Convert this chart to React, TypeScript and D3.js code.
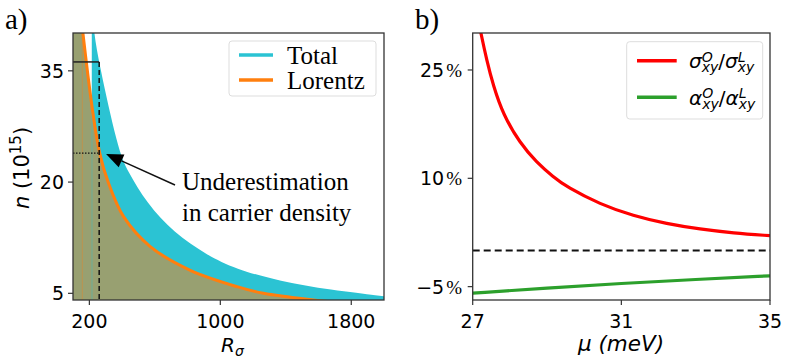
import { area, curveBasis, curveCatmullRom, line, scaleLinear } from "d3"

// panel a: carrier density n (10^15) vs R_sigma
const lorentzR = [157, 161, 263, 318, 410, 572, 817, 1102, 1264, 1568, 2000]
const lorentzN = [41.0, 40.0, 23.9, 19.8, 15.3, 11.3, 8.1, 5.9, 5.0, 4.1, 3.2]
const totalR = [216, 230, 257, 375, 430, 552, 715, 919, 1090, 1366, 1672, 2000]
const totalN = [43.0, 40.0, 36.2, 24.4, 21.6, 17.1, 13.2, 10.15, 8.3, 6.6, 5.45, 4.6]
const markR = 260
const markTotalN = 36.2
const markLorentzN = 23.9
const xTicksA = [200, 1000, 1800]
const yTicksA = [5, 20, 35]

// panel b: ratios in % vs mu (meV)
const sigmaMu = [27.1, 27.22, 27.38, 27.55, 27.82, 28.27, 28.72, 29.17, 29.53, 30.43, 31.32, 32.22, 33.12, 34.01, 35.0]
const sigmaVal = [33.2, 30.1, 26.3, 22.9, 18.8, 14.9, 12.2, 10.2, 8.8, 6.4, 4.8, 3.7, 2.95, 2.42, 2.05]
const alphaMu = [27, 29, 31, 33, 35]
const alphaVal = [-5.9, -5.2, -4.55, -4.0, -3.5]
const xTicksB = [27, 31, 35]
const yTicksB = [25, 10, -5]

const SANS = "DejaVu Sans"
const SERIF = "Liberation Serif"
const OLIVE = "#98a071"
const CYAN = "#2bc3d3"
const ORANGE = "#ff7f0e"

const App = () => {
    const xA = scaleLinear().domain([100, 2000]).range([73, 384])
    const yA = scaleLinear().domain([4.1, 40.1]).range([300, 33])
    const xB = scaleLinear().domain([27, 35]).range([472.7, 770])
    const yB = scaleLinear().domain([-6.85, 30.12]).range([300, 33])

    const lor = lorentzR.map((r, i) => [r, lorentzN[i]])
    const tot = totalR.map((r, i) => [r, totalN[i]])
    const sig = sigmaMu.map((m, i) => [m, sigmaVal[i]])
    const alp = alphaMu.map((m, i) => [m, alphaVal[i]])

    const smooth = curveCatmullRom.alpha(0.5)
    const lineA = line().x(d => xA(d[0])).y(d => yA(d[1])).curve(smooth)
    const areaA = area().x(d => xA(d[0])).y0(yA(0)).y1(d => yA(d[1])).curve(smooth)
    const areaTot = area().x(d => xA(d[0])).y0(yA(0)).y1(d => yA(d[1])).curve(curveBasis)
    const lineB = line().x(d => xB(d[0])).y(d => yB(d[1])).curve(curveBasis)

    // arrow of the annotation
    const tip = [xA(302), yA(23.8)]
    const tail = [175, 185]
    const dx = tip[0] - tail[0], dy = tip[1] - tail[1]
    const len = Math.hypot(dx, dy)
    const ux = dx / len, uy = dy / len
    const hl = 17, hw = 7
    const bx = tip[0] - ux * hl, by = tip[1] - uy * hl
    const head = `M${tip[0]},${tip[1]}L${bx - uy * hw},${by + ux * hw}L${bx + uy * hw},${by - ux * hw}Z`

    // one text element per label: base^O_xy / base^L_xy
    const mathLabel = (base, x, y) => {
        const bw = base === "σ" ? 12.7 : 13.2
        const subW = 16.6
        const slash = 6.7
        const x2 = x + bw + subW + slash
        return (
            <text x={x} y={y} fontFamily={SANS} fontStyle="italic" fontSize={20}>
                {base}
                <tspan x={x + bw} y={y - 6.5} fontSize={14}>O</tspan>
                <tspan x={x + bw} y={y + 4} fontSize={14}>xy</tspan>
                <tspan x={x + bw + subW} y={y} fontStyle="normal">/</tspan>
                <tspan x={x2} y={y}>{base}</tspan>
                <tspan x={x2 + bw} y={y - 6.5} fontSize={14}>L</tspan>
                <tspan x={x2 + bw} y={y + 4} fontSize={14}>xy</tspan>
            </text>
        )
    }

    return (
        <svg width={805} height={363} style={{ position: "absolute", left: 0, top: 0, background: "#fff" }}>
            <defs>
                <clipPath id="clipA"><rect x={73} y={33} width={311} height={267} /></clipPath>
                <clipPath id="clipB"><rect x={472.7} y={33} width={297.3} height={267} /></clipPath>
            </defs>

            {/* panel a */}
            <text x={5} y={29} fontFamily={SERIF} fontSize={29}>a)</text>
            <g clipPath="url(#clipA)">
                <path d={areaTot(tot)} fill={CYAN} />
                <path d={areaA([[100, 45], ...lor])} fill={OLIVE} />
                <line x1={xA(lorentzR[0])} x2={xA(lorentzR[0])} y1={33} y2={300} stroke={ORANGE} strokeOpacity={0.35} strokeWidth={1} />
                <line x1={xA(totalR[0])} x2={xA(totalR[0])} y1={33} y2={300} stroke={CYAN} strokeOpacity={0.4} strokeWidth={1} />
                <path d={lineA(lor)} fill="none" stroke={ORANGE} strokeWidth={3} />
                <line x1={73} x2={xA(markR)} y1={yA(markTotalN)} y2={yA(markTotalN)} stroke="#222" strokeWidth={1.5} />
                <line x1={xA(markR)} x2={xA(markR)} y1={yA(markTotalN)} y2={300} stroke="#111" strokeWidth={1.5} strokeDasharray="5,3" />
                <line x1={73} x2={xA(markR)} y1={yA(markLorentzN)} y2={yA(markLorentzN)} stroke="#111" strokeWidth={1.2} strokeDasharray="1.5,1.5" />
            </g>
            <line x1={tail[0]} y1={tail[1]} x2={bx} y2={by} stroke="#111" strokeWidth={1.5} />
            <path d={head} fill="#000" />
            <text x={182} y={190} fontFamily={SERIF} fontSize={25}>Underestimation</text>
            <text x={182} y={221} fontFamily={SERIF} fontSize={25}>in carrier density</text>
            <rect x={73} y={33} width={311} height={267} fill="none" stroke="#333" strokeWidth={1.3} />
            {xTicksA.map(t => (
                <g key={t}>
                    <line x1={xA(t)} x2={xA(t)} y1={300} y2={305} stroke="#333" strokeWidth={1.2} />
                    <text x={xA(t)} y={328} textAnchor="middle" fontFamily={SANS} fontSize={19}>{t}</text>
                </g>
            ))}
            {yTicksA.map(t => (
                <g key={t}>
                    <line x1={68} x2={73} y1={yA(t)} y2={yA(t)} stroke="#333" strokeWidth={1.2} />
                    <text x={64} y={yA(t) + 7} textAnchor="end" fontFamily={SANS} fontSize={19}>{t}</text>
                </g>
            ))}
            <text transform="translate(29,168) rotate(-90)" textAnchor="middle" fontFamily={SANS} fontSize={21}>
                <tspan fontStyle="italic">n</tspan> (10<tspan fontSize={15} dy={-8}>15</tspan><tspan dy={8}>)</tspan>
            </text>
            <text x={221} y={352} fontFamily={SANS} fontStyle="italic" fontSize={20}>
                R<tspan fontSize={14} dy={4}>σ</tspan>
            </text>

            {/* legend a */}
            <rect x={229} y={41} width={147} height={55} rx={3} fill="#fff" fillOpacity={0.85} stroke="#ddd" strokeWidth={1} />
            <line x1={239} x2={273} y1={55} y2={55} stroke={CYAN} strokeWidth={3.5} />
            <text x={287} y={63.5} fontFamily={SERIF} fontSize={25}>Total</text>
            <line x1={239} x2={273} y1={80} y2={80} stroke={ORANGE} strokeWidth={3.5} />
            <text x={287} y={88.5} fontFamily={SERIF} fontSize={25}>Lorentz</text>

            {/* panel b */}
            <text x={415} y={29} fontFamily={SERIF} fontSize={29}>b)</text>
            <g clipPath="url(#clipB)">
                <line x1={472.7} x2={770} y1={yB(0)} y2={yB(0)} stroke="#111" strokeWidth={2} strokeDasharray="7,4" />
                <path d={lineB(sig)} fill="none" stroke="#ff0000" strokeWidth={3.2} />
                <path d={lineB(alp)} fill="none" stroke="#2ca02c" strokeWidth={3.2} />
            </g>
            <rect x={472.7} y={33} width={297.3} height={267} fill="none" stroke="#333" strokeWidth={1.3} />
            {xTicksB.map(t => (
                <g key={t}>
                    <line x1={xB(t)} x2={xB(t)} y1={300} y2={305} stroke="#333" strokeWidth={1.2} />
                    <text x={xB(t)} y={328} textAnchor="middle" fontFamily={SANS} fontSize={19}>{t}</text>
                </g>
            ))}
            {yTicksB.map(t => (
                <g key={t}>
                    <line x1={467.7} x2={472.7} y1={yB(t)} y2={yB(t)} stroke="#333" strokeWidth={1.2} />
                    <text x={462} y={yB(t) + 7} textAnchor="end" fontFamily={SANS} fontSize={19}>
                        {t < 0 ? "\u2212" + Math.abs(t) : t}<tspan dx={2} fontFamily={SERIF} fontSize={19}>%</tspan>
                    </text>
                </g>
            ))}
            <text x={621} y={351} textAnchor="middle" fontFamily={SANS} fontStyle="italic" fontSize={21.5}>μ (meV)</text>

            {/* legend b */}
            <rect x={626.7} y={41.7} width={136} height={77.3} rx={3} fill="#fff" fillOpacity={0.85} stroke="#ddd" strokeWidth={1} />
            <line x1={637} x2={676.7} y1={60.7} y2={60.7} stroke="#ff0000" strokeWidth={3.5} />
            {mathLabel("σ", 689, 68)}
            <line x1={637} x2={676.7} y1={97.3} y2={97.3} stroke="#2ca02c" strokeWidth={3.5} />
            {mathLabel("α", 689, 104.6)}
        </svg>
    )
}

export default App
